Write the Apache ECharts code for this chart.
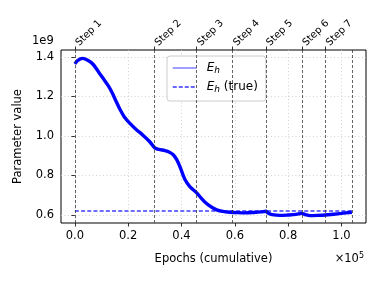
<!DOCTYPE html>
<html>
<head>
<meta charset="utf-8">
<script src="https://cdn.jsdelivr.net/npm/echarts@6/dist/echarts.min.js"></script>
<style>html,body{margin:0;padding:0;background:#fff;}#c{width:378px;height:284px;}</style>
</head>
<body>
<div id="c"></div>
<script>
const epochs = [0, 1000, 2900, 5000, 6900, 9000, 10600, 12500, 13800, 15500, 16900, 18500, 20650, 23000, 25650, 28000, 30000, 31500, 33800, 35500, 36900, 38200, 39400, 41300, 43200, 45700, 47500, 49400, 51500, 53200, 55500, 58200, 61000, 64000, 67000, 70000, 71600, 72500, 74000, 77000, 80000, 83000, 85200, 86500, 88200, 91000, 94000, 97000, 100000, 103900];
const paramValues = [1.365, 1.382, 1.393, 1.382, 1.362, 1.322, 1.292, 1.255, 1.224, 1.175, 1.135, 1.098, 1.064, 1.033, 1.003, 0.972, 0.940, 0.932, 0.926, 0.918, 0.905, 0.880, 0.845, 0.780, 0.743, 0.712, 0.684, 0.658, 0.638, 0.626, 0.618, 0.614, 0.612, 0.611, 0.613, 0.616, 0.619, 0.610, 0.602, 0.598, 0.600, 0.603, 0.608, 0.602, 0.597, 0.598, 0.600, 0.604, 0.608, 0.614];
const trueEpochs = [0, 103900];
const trueValues = [0.62, 0.62];
const stepEpochs = [0, 29800, 45700, 59200, 71600, 85200, 94000];
const stepLabels = ['Step 1', 'Step 2', 'Step 3', 'Step 4', 'Step 5', 'Step 6', 'Step 7'];
const endEpoch = 103900;
const xTicks = [0, 20000, 40000, 60000, 80000, 100000];
const yTicks = [0.6, 0.8, 1.0, 1.2, 1.4];
const SCALE_Y = 1e9;

const FONT = 'DejaVu Sans';
const chart = echarts.init(document.getElementById('c'), null, {renderer: 'canvas'});
const vLines = stepEpochs.concat([endEpoch]).map(v => ({xAxis: v}));
const hideSym = {opacity: 0, color: 'transparent', borderWidth: 0};

chart.setOption({
  animation: false,
  textStyle: {fontFamily: FONT},
  grid: {left: 61, right: 12, top: 50, bottom: 61, show: true, borderColor: '#000', borderWidth: 1, backgroundColor: 'transparent'},
  legend: {
    orient: 'vertical', left: 167, top: 56,
    backgroundColor: 'rgba(255,255,255,0.85)', borderColor: '#cccccc', borderWidth: 1, borderRadius: 3,
    padding: [6, 8, 7, 5], itemGap: 6, itemWidth: 24, itemHeight: 10,
    data: [
      {name: 'E_h', itemStyle: hideSym, lineStyle: {color: 'rgba(0,0,255,0.5)', width: 1.5}},
      {name: 'E_h (true)', itemStyle: hideSym, lineStyle: {color: 'rgba(30,30,255,0.9)', width: 1.5, type: [4, 2]}}
    ],
    formatter: function (n) {
      return n === 'E_h' ? '{it|E}{sub|h}' : '{it|E}{sub|h}{n| (true)}';
    },
    textStyle: {
      fontFamily: FONT, fontSize: 12, color: '#000',
      rich: {
        it: {fontFamily: FONT, fontStyle: 'italic', fontSize: 12, color: '#000', padding: [0, 0, 0, 5]},
        sub: {fontFamily: FONT, fontStyle: 'italic', fontSize: 9, color: '#000', padding: [5, 0, 0, 0]},
        n: {fontFamily: FONT, fontSize: 12, color: '#000'}
      }
    }
  },
  xAxis: [{
    type: 'value', position: 'bottom', min: -5200, max: 109200,
    axisLine: {show: false},
    axisTick: {show: true, customValues: xTicks, length: 3.5, lineStyle: {color: '#000', width: 0.8}},
    axisLabel: {customValues: xTicks, formatter: v => (v / 1e5).toFixed(1), fontSize: 11.5, color: '#000', margin: 7, fontFamily: FONT},
    splitLine: {show: true, lineStyle: {color: '#c8c8c8', width: 0.8, type: [1, 2.5]}},
    name: 'Epochs (cumulative)', nameLocation: 'middle', nameGap: 30,
    nameTextStyle: {fontSize: 11.5, color: '#000', fontFamily: FONT}
  }, {
    type: 'value', position: 'top', min: -5200, max: 109200,
    axisLine: {show: false},
    axisTick: {show: true, customValues: stepEpochs, length: 3.5, lineStyle: {color: '#000', width: 0.8}},
    axisLabel: {show: false},
    splitLine: {show: false}
  }],
  yAxis: {
    type: 'value', min: 0.5595 * SCALE_Y, max: 1.4354 * SCALE_Y,
    axisLine: {show: false},
    axisTick: {show: true, customValues: yTicks.map(v => v * SCALE_Y), length: 3.5, lineStyle: {color: '#000', width: 0.8}},
    axisLabel: {customValues: yTicks.map(v => v * SCALE_Y), formatter: v => (v / SCALE_Y).toFixed(1), fontSize: 11.5, color: '#000', margin: 7, fontFamily: FONT},
    splitLine: {show: true, lineStyle: {color: '#c8c8c8', width: 0.8, type: [1, 2.5]}},
    name: 'Parameter value', nameLocation: 'middle', nameGap: 37, nameRotate: 90,
    nameTextStyle: {fontSize: 11.5, color: '#000', fontFamily: FONT}
  },
  series: [{
    name: 'E_h', type: 'line', xAxisIndex: 0,
    data: epochs.map((x, i) => [x, paramValues[i] * SCALE_Y]),
    smooth: 0.3, showSymbol: false, symbol: 'none',
    lineStyle: {color: '#0000ff', width: 3.4}, itemStyle: {color: '#0000ff'}, z: 4,
    markLine: {silent: true, symbol: ['none', 'none'], label: {show: false},
      lineStyle: {color: '#333', width: 0.9, type: [3, 2], opacity: 0.85}, data: vLines}
  }, {
    name: 'E_h (true)', type: 'line', xAxisIndex: 0,
    data: trueEpochs.map((x, i) => [x, trueValues[i] * SCALE_Y]),
    showSymbol: false, symbol: 'none',
    lineStyle: {color: 'rgba(40,40,255,0.9)', width: 1.5, type: [4, 2.2]}, itemStyle: {color: 'rgba(40,40,255,0.9)'}, z: 3
  }]
});

const gfx = [
  {type: 'text', left: 32, top: 35, style: {text: '1e9', font: '11.5px "DejaVu Sans"', fill: '#000'}},
  {type: 'text', right: 14, top: 252, style: {rich: {a: {font: '11.5px "DejaVu Sans"', fill: '#000'}, b: {font: '8px "DejaVu Sans"', fill: '#000', padding: [0, 0, 6, 0]}}, text: '{a|×10}{b|5}'}}
];
stepEpochs.forEach((v, i) => {
  const px = chart.convertToPixel({xAxisIndex: 1}, v);
  gfx.push({type: 'text', x: px + 6, y: 48, rotation: Math.PI / 4,
    style: {text: stepLabels[i], font: '10px "DejaVu Sans"', fill: '#000', textAlign: 'left', textVerticalAlign: 'bottom'}});
});
chart.setOption({graphic: gfx});
</script>
</body>
</html>
